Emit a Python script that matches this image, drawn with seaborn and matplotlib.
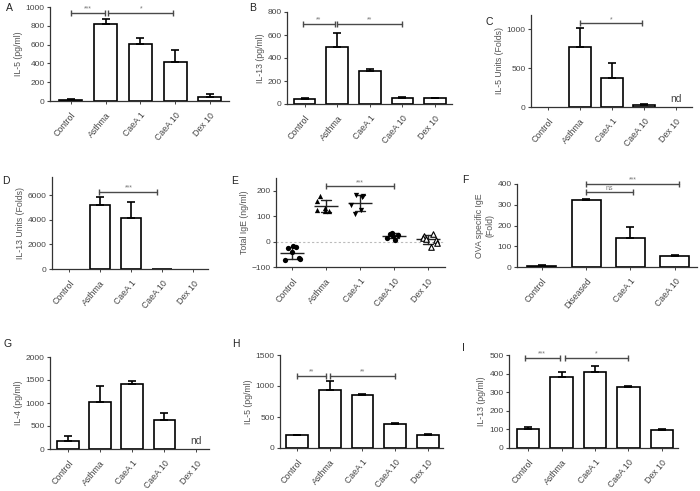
import numpy as np
import pandas as pd
import matplotlib
matplotlib.use("Agg")
import matplotlib.pyplot as plt
import seaborn as sns

# ---------------- data ----------------
nan = float("nan")
cats5 = ["Control", "Asthma", "CaeA 1", "CaeA 10", "Dex 10"]
catsF = ["Control", "Diseased", "CaeA 1", "CaeA 10"]

a_vals = [15, 816, 610, 412, 46]
a_err = [5, 56, 57, 131, 25]

b_vals = [46, 492, 288, 52, 52]
b_err = [4, 126, 17, 8, 3]

c_vals = [nan, 768, 377, 22, nan]
c_err = [0, 245, 193, 17, 0]

d_vals = [nan, 5215, 4135, 30, nan]
d_err = [0, 620, 1265, 0, 0]

e_control = [-18, -22, -26, -40, -65, -68, -72]
e_asthma = [178, 160, 132, 125, 120, 122]
e_caea1 = [184, 180, 176, 142, 125, 110]
e_caea10 = [34, 30, 26, 22, 16, 8]
e_dex10 = [30, 22, 15, 10, 8, -5, -22]

f_vals = [5, 324, 141, 53]
f_err = [3, 5, 50, 7]

g_vals = [165, 1028, 1413, 622, nan]
g_err = [110, 334, 57, 152, 0]

h_vals = [210, 929, 848, 394, 215]
h_err = [5, 150, 15, 16, 8]

i_vals = [102, 380, 407, 329, 99]
i_err = [9, 30, 34, 7, 3]

# ---------------- style ----------------
sns.set_theme(style="ticks")
plt.rcParams["font.family"] = ["Liberation Sans", "DejaVu Sans"]
plt.rcParams["axes.linewidth"] = 0.9
plt.rcParams["axes.edgecolor"] = "#333333"

W, H = 700, 491
fig = plt.figure(figsize=(7.0, 4.91), dpi=100)

def add_ax(l, t, r, b):
    return fig.add_axes([l / W, 1 - b / H, (r - l) / W, (b - t) / H])

TICK_C = "#444444"

def style(ax, cats, xlim, ylim, yticks, ylabel):
    ax.set_xlim(*xlim)
    ax.set_ylim(*ylim)
    ax.set_yticks(yticks)
    ax.set_xticks(range(len(cats)))
    ax.set_xticklabels(cats, rotation=50, ha="right", va="top",
                       rotation_mode="anchor", fontsize=6.3, color=TICK_C)
    ax.tick_params(axis="y", labelsize=6, colors=TICK_C, length=2.5,
                   width=0.8, pad=1.5)
    ax.tick_params(axis="x", length=2, width=0.7, pad=5, colors=TICK_C)
    for lbl in ax.get_yticklabels():
        lbl.set_color(TICK_C)
    ax.set_ylabel(ylabel, fontsize=6.3, color="#555555", labelpad=2)
    ax.set_xlabel("")
    sns.despine(ax=ax)

def bar_panel(ax, cats, vals, errs):
    df = pd.DataFrame({"cat": cats, "val": vals}).dropna()
    sns.barplot(data=df, x="cat", y="val", order=cats, ax=ax, color="white",
                edgecolor="black", linewidth=1.2, width=0.66,
                saturation=1, errorbar=None)
    idx = [k for k, e in enumerate(errs) if e > 0 and vals[k] == vals[k]]
    ax.errorbar(idx, [vals[k] for k in idx],
                yerr=[[0] * len(idx), [errs[k] for k in idx]],
                fmt="none", ecolor="black", elinewidth=1.2,
                capsize=3.2, capthick=1.2, zorder=1)

def bracket(ax, x1, x2, y, label):
    ax.plot([x1, x2], [y, y], color="#4a4a4a", lw=1.0, marker="|",
            markersize=5, markeredgewidth=1.0, clip_on=False, zorder=5)
    ax.annotate(label, xy=((x1 + x2) / 2, y), xytext=(0, 0.3),
                textcoords="offset points", ha="center", va="bottom",
                fontsize=5, color="#777777", annotation_clip=False)

def panel_letter(x, y, s):
    fig.text(x / W, 1 - y / H, s, fontsize=7.5, color="#222222",
             ha="left", va="top")

# ---------------- A ----------------
ax = add_ax(50, 7, 229, 101)
bar_panel(ax, cats5, a_vals, a_err)
style(ax, cats5, (-0.6, 4.55), (0, 1000), range(0, 1001, 200), "IL-5 (pg/ml)")
bracket(ax, 0, 0.98, 933, "***")
bracket(ax, 1.08, 2.95, 933, "*")
panel_letter(6, 3, "A")

# ---------------- B ----------------
ax = add_ax(287, 12, 452, 104)
bar_panel(ax, cats5, b_vals, b_err)
style(ax, cats5, (-0.54, 4.52), (0, 800), range(0, 801, 200), "IL-13 (pg/ml)")
bracket(ax, -0.05, 0.92, 693, "**")
bracket(ax, 1.0, 3.0, 693, "**")
panel_letter(249, 3, "B")

# ---------------- C ----------------
ax = add_ax(531, 15, 692, 107)
bar_panel(ax, cats5, c_vals, c_err)
style(ax, cats5, (-0.53, 4.5), (0, 1180), [0, 500, 1000], "IL-5 Units (Folds)")
bracket(ax, 1.0, 2.95, 1073, "*")
ax.text(4, 40, "nd", ha="center", va="bottom", fontsize=7.5, color="#444444")
panel_letter(485, 17, "C")

# ---------------- D ----------------
ax = add_ax(52, 177, 208, 269)
bar_panel(ax, cats5, d_vals, d_err)
style(ax, cats5, (-0.55, 4.48), (0, 7460), [0, 2000, 4000, 6000],
      "IL-13 Units (Folds)")
bracket(ax, 0.98, 2.85, 6270, "***")
panel_letter(2, 176, "D")

# ---------------- E ----------------
ax = add_ax(276, 178, 445, 267)
ax.axhline(0, color="#bbbbbb", lw=0.8, ls=(0, (2, 2)), zorder=0)
np.random.seed(3)
groups = [e_control, e_asthma, e_caea1, e_caea10, e_dex10]
markers = ["o", "^", "v", "o", "^"]
for cat, vals, mk in zip(cats5, groups, markers):
    if cat == "Dex 10":
        sns.stripplot(x=[cat] * len(vals), y=vals, order=cats5, ax=ax,
                      marker=mk, color="white", edgecolor="black",
                      linewidth=0.8, size=4, jitter=0.28, zorder=3)
    else:
        sns.stripplot(x=[cat] * len(vals), y=vals, order=cats5, ax=ax,
                      marker=mk, color="black", size=3.8, jitter=0.28,
                      zorder=3)
df_e = pd.DataFrame({
    "group": sum([[c] * len(v) for c, v in zip(cats5, groups)], []),
    "value": sum([list(v) for v in groups], []),
})
sns.pointplot(data=df_e, x="group", y="value", order=cats5, ax=ax,
              errorbar="sd", capsize=0.3, linestyle="none", marker="_",
              markersize=17, markeredgewidth=1.0, color="#222222",
              err_kws={"linewidth": 1.0})
style(ax, cats5, (-0.47, 4.5), (-100, 250), [-100, 0, 100, 200],
      "Total IgE (ng/ml)")
bracket(ax, 1.0, 3.0, 217, "***")
panel_letter(231, 176, "E")

# ---------------- F ----------------
ax = add_ax(517, 184, 697, 267)
bar_panel(ax, catsF, f_vals, f_err)
style(ax, catsF, (-0.56, 3.5), (0, 400), range(0, 401, 100),
      "OVA specific IgE\n(Fold)")
bracket(ax, 1.0, 2.05, 360, "ns")
bracket(ax, 1.0, 3.1, 400, "***")
panel_letter(462, 175, "F")

# ---------------- G ----------------
ax = add_ax(50, 357, 209, 449)
bar_panel(ax, cats5, g_vals, g_err)
style(ax, cats5, (-0.56, 4.4), (0, 2000), range(0, 2001, 500), "IL-4 (pg/ml)")
ax.text(4, 70, "nd", ha="center", va="bottom", fontsize=7.5, color="#444444")
panel_letter(3, 339, "G")

# ---------------- H ----------------
ax = add_ax(280, 355, 443, 448)
bar_panel(ax, cats5, h_vals, h_err)
style(ax, cats5, (-0.52, 4.46), (0, 1500), [0, 500, 1000, 1500], "IL-5 (pg/ml)")
bracket(ax, 0.0, 0.88, 1161, "**")
bracket(ax, 1.0, 3.0, 1161, "**")
panel_letter(232, 339, "H")

# ---------------- I ----------------
ax = add_ax(509, 355, 678, 448)
bar_panel(ax, cats5, i_vals, i_err)
style(ax, cats5, (-0.57, 4.48), (0, 500), range(0, 501, 100), "IL-13 (pg/ml)")
bracket(ax, -0.1, 0.95, 485, "***")
bracket(ax, 1.1, 3.0, 485, "*")
panel_letter(462, 343, "I")

fig.savefig("out.png", dpi=100)
